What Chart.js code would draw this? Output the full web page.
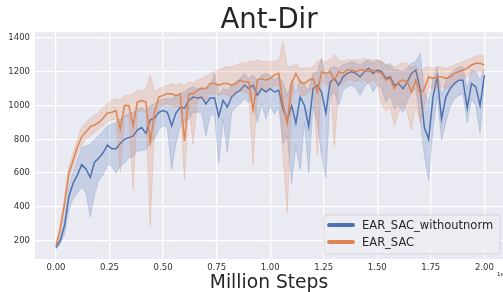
<!DOCTYPE html>
<html>
<head>
<meta charset="utf-8">
<script src="https://cdn.jsdelivr.net/npm/chart.js@4.4.0/dist/chart.umd.min.js"></script>
<style>
  body { margin: 0; background: #fff; }
  #wrap { width: 503px; height: 292px; }
</style>
</head>
<body>
<div id="wrap"><canvas id="antChart" width="503" height="292"></canvas></div>
<script>
// x positions (in units of 1e6 steps)
var steps = [0, 0.02, 0.04, 0.06, 0.08, 0.10, 0.12, 0.14, 0.16, 0.18,
  0.20, 0.22, 0.24, 0.26, 0.28, 0.30, 0.32, 0.34, 0.36, 0.38,
  0.40, 0.42, 0.44, 0.46, 0.48, 0.50, 0.52, 0.54, 0.56, 0.58,
  0.60, 0.62, 0.64, 0.66, 0.68, 0.70, 0.72, 0.74, 0.76, 0.78,
  0.80, 0.82, 0.84, 0.86, 0.88, 0.90, 0.92, 0.94, 0.96, 0.98,
  1.00, 1.02, 1.04, 1.06, 1.08, 1.10, 1.12, 1.14, 1.16, 1.18,
  1.20, 1.22, 1.24, 1.26, 1.28, 1.30, 1.32, 1.34, 1.36, 1.38,
  1.40, 1.42, 1.44, 1.46, 1.48, 1.50, 1.52, 1.54, 1.56, 1.58,
  1.60, 1.62, 1.64, 1.66, 1.68, 1.70, 1.72, 1.74, 1.76, 1.78,
  1.80, 1.82, 1.84, 1.86, 1.88, 1.90, 1.92, 1.94, 1.96, 1.98, 2.00];

// EAR_SAC_withoutnorm
var blueMean = [160, 200, 290, 460, 540, 590, 650, 625, 575, 665,
  690, 720, 765, 745, 745, 775, 800, 810, 820, 855,
  870, 835, 915, 925, 960, 970, 960, 880, 955, 990,
  985, 1030, 1050, 1045, 1050, 1010, 1045, 1045, 935, 1030,
  990, 1050, 1075, 1090, 1120, 1100, 1120, 1060, 1100, 1080,
  1100, 1080, 1090, 980, 915, 1000, 895, 1050, 1000, 875,
  1100, 1120, 1080, 955, 1140, 1160, 1120, 1170, 1190, 1200,
  1190, 1170, 1200, 1220, 1190, 1210, 1200, 1160, 1170, 1120,
  1130, 1100, 1140, 1190, 1210, 1100, 870, 800, 1050, 1170,
  920, 1050, 1100, 1130, 1150, 1150, 985, 1130, 1110, 1000, 1180];
var blueLow = [150, 180, 240, 380, 450, 480, 520, 480, 340, 470,
  560, 590, 650, 640, 600, 640, 660, 690, 700, 730,
  735, 740, 780, 800, 860, 880, 870, 620, 775, 880,
  900, 920, 960, 960, 960, 820, 940, 950, 660, 920,
  725, 960, 990, 1010, 1040, 1020, 1040, 900, 1010, 920,
  1000, 950, 990, 775, 820, 540, 760, 620, 900, 600,
  1000, 900, 705, 575, 1050, 1080, 1000, 1090, 1110, 1120,
  1100, 1060, 1110, 1140, 1080, 1120, 1100, 1020, 1060, 980,
  1000, 960, 1030, 1080, 1100, 920, 700, 560, 860, 1060,
  795, 900, 990, 1040, 1060, 1070, 900, 1040, 1000, 835, 1130];
var blueHigh = [180, 220, 330, 520, 610, 680, 750, 760, 770, 800,
  820, 850, 880, 890, 900, 920, 940, 950, 960, 980,
  990, 970, 1000, 1010, 1030, 1040, 1040, 1040, 1060, 1070,
  1080, 1100, 1110, 1100, 1110, 1100, 1110, 1190, 1060, 1100,
  1090, 1120, 1140, 1160, 1190, 1160, 1180, 1150, 1180, 1190,
  1180, 1150, 1170, 1140, 1060, 1150, 1080, 1150, 1120, 1090,
  1190, 1200, 1280, 1170, 1220, 1230, 1220, 1240, 1250, 1260,
  1250, 1240, 1260, 1270, 1250, 1270, 1260, 1240, 1240, 1210,
  1210, 1200, 1220, 1250, 1260, 1310, 1080, 1020, 1150, 1230,
  1060, 1140, 1190, 1210, 1230, 1230, 1100, 1210, 1200, 1150, 1220];

// EAR_SAC
var orangeMean = [170, 270, 420, 600, 675, 755, 815, 845, 875, 885,
  900, 925, 955, 960, 970, 860, 1000, 1000, 880, 1020,
  1030, 1020, 780, 960, 1050, 1060, 1070, 1070, 1060, 1070,
  790, 1070, 1070, 1090, 1100, 1100, 1130, 1130, 1120, 1130,
  1130, 1120, 1130, 1150, 1140, 1140, 970, 1150, 1160, 1150,
  1160, 1180, 1190, 1010, 895, 1130, 1190, 1140, 1130, 1150,
  1160, 1080, 1200, 1190, 1200, 1150, 1200, 1190, 1210, 1210,
  1200, 1210, 1210, 1200, 1210, 1200, 1190, 1150, 1160, 1100,
  1140, 1150, 1140, 1080, 1150, 1070, 1100, 1170, 1160, 1170,
  1170, 1160, 1170, 1190, 1200, 1210, 1220, 1240, 1250, 1250, 1240];
var orangeLow = [160, 240, 380, 560, 640, 720, 765, 800, 820, 840,
  860, 880, 905, 915, 920, 600, 940, 930, 500, 960,
  970, 960, 280, 880, 990, 1000, 1010, 1000, 990, 1000,
  560, 1000, 770, 1030, 1040, 1030, 1070, 1070, 1060, 1070,
  1060, 1050, 1070, 1090, 1080, 1070, 650, 1080, 1100, 1090,
  1100, 1120, 1120, 700, 365, 1040, 1130, 1060, 1060, 1080,
  1100, 705, 1140, 1120, 1130, 755, 1130, 1120, 1150, 1150,
  1140, 1150, 1150, 1130, 1150, 1130, 1000, 970, 990, 880,
  960, 1000, 960, 855, 1000, 900, 1000, 1110, 1100, 1110,
  1110, 1100, 1110, 1140, 1150, 1160, 1170, 1190, 1200, 1200, 1190];
var orangeHigh = [180, 300, 460, 640, 720, 800, 875, 900, 925, 940,
  960, 990, 1010, 1030, 1040, 1030, 1060, 1060, 1070, 1090,
  1090, 1100, 1180, 1080, 1100, 1110, 1120, 1130, 1120, 1130,
  1120, 1140, 1130, 1150, 1160, 1170, 1190, 1200, 1210, 1220,
  1230, 1230, 1240, 1250, 1250, 1260, 1260, 1270, 1260, 1260,
  1260, 1260, 1270, 1380, 1230, 1230, 1250, 1220, 1220, 1220,
  1230, 1260, 1270, 1260, 1270, 1300, 1270, 1260, 1270, 1270,
  1270, 1270, 1280, 1270, 1270, 1270, 1260, 1240, 1250, 1230,
  1240, 1250, 1250, 1220, 1240, 1200, 1220, 1230, 1220, 1230,
  1230, 1220, 1230, 1240, 1250, 1260, 1270, 1280, 1290, 1300, 1290];

var xTicks = [0, 0.25, 0.5, 0.75, 1.0, 1.25, 1.5, 1.75, 2.0];
var yTicks = [200, 400, 600, 800, 1000, 1200, 1400];
var seriesNames = ['EAR_SAC_withoutnorm', 'EAR_SAC'];

var BLUE = '#4C72B0';
var ORANGE = '#DD8452';

function pts(arr) {
    return steps.map(function (x, i) { return { x: x, y: arr[i] }; });
}

function band(arr, color, fill, order) {
    return {
        data: pts(arr),
        borderColor: color,
        borderWidth: 0.8,
        backgroundColor: fill,
        fill: order === 'upper' ? '-1' : false,
        pointRadius: 0,
        tension: 0
    };
}

var datasets = [
    Object.assign(band(blueLow, 'rgba(76,114,176,0.28)', 'rgba(76,114,176,0.22)', 'lower'), { order: 3 }),
    Object.assign(band(blueHigh, 'rgba(76,114,176,0.28)', 'rgba(76,114,176,0.22)', 'upper'), { order: 3 }),
    { label: seriesNames[0], data: pts(blueMean), borderColor: BLUE, borderWidth: 1.5, pointRadius: 0, fill: false, tension: 0, order: 2 },
    Object.assign(band(orangeLow, 'rgba(221,132,82,0.28)', 'rgba(221,132,82,0.22)', 'lower'), { order: 1 }),
    Object.assign(band(orangeHigh, 'rgba(221,132,82,0.28)', 'rgba(221,132,82,0.22)', 'upper'), { order: 1 }),
    { label: seriesNames[1], data: pts(orangeMean), borderColor: ORANGE, borderWidth: 1.5, pointRadius: 0, fill: false, tension: 0, order: 0 }
];

// seaborn-ish plot background
var plotBg = {
    id: 'plotBg',
    beforeDraw: function (chart) {
        var a = chart.chartArea, c = chart.ctx;
        c.save();
        c.fillStyle = '#EAEAF2';
        c.fillRect(a.left, a.top, a.right - a.left, a.bottom - a.top);
        c.restore();
    }
};

// title, axis label, offset text and legend box
var extras = {
    id: 'extras',
    afterDraw: function (chart) {
        var a = chart.chartArea, c = chart.ctx;
        var mid = (a.left + a.right) / 2;
        c.save();
        c.fillStyle = '#262626';
        c.textAlign = 'center';
        c.textBaseline = 'alphabetic';
        c.font = '27.5px "DejaVu Sans"';
        c.fillText('Ant-Dir', mid, 28);
        c.font = '18.7px "DejaVu Sans"';
        c.fillText('Million Steps', mid, 288);
        c.font = '5.5px "DejaVu Sans"';
        c.textAlign = 'left';
        c.fillText('1e6', 497, 276);

        // legend
        c.beginPath();
        c.roundRect(324, 215, 176, 39, 3);
        c.fillStyle = 'rgba(236,236,243,0.85)';
        c.fill();
        c.strokeStyle = '#d4d4dc';
        c.lineWidth = 1;
        c.stroke();
        var rows = [[BLUE, 225], [ORANGE, 242]];
        c.lineCap = 'round';
        c.lineWidth = 3.8;
        c.font = '11.5px "DejaVu Sans"';
        rows.forEach(function (r, i) {
            c.strokeStyle = r[0];
            c.beginPath();
            c.moveTo(329, r[1]);
            c.lineTo(353, r[1]);
            c.stroke();
            c.fillStyle = '#262626';
            c.fillText(seriesNames[i], 362, r[1] + 4);
        });
        c.restore();
    }
};

var tickFont = { family: 'DejaVu Sans', size: 8.5 };

var ctx = document.getElementById('antChart');
var antChart = new Chart(ctx, {
    type: 'line',
    data: { datasets: datasets },
    options: {
        responsive: false,
        animation: false,
        events: [],
        layout: { padding: { top: 32, right: 0, bottom: 0, left: 0 } },
        plugins: {
            legend: { display: false },
            tooltip: { enabled: false },
            title: { display: false }
        },
        scales: {
            x: {
                type: 'linear',
                min: -0.098,
                max: 2.087,
                afterFit: function (s) { s.height = 33; },
                afterBuildTicks: function (s) { s.ticks = xTicks.map(function (v) { return { value: v }; }); },
                grid: { color: '#ffffff', lineWidth: 1.3, drawTicks: false },
                border: { display: false },
                ticks: {
                    padding: 4,
                    autoSkip: false,
                    maxRotation: 0,
                    color: '#333333',
                    font: tickFont,
                    callback: function (v) { return Number(v).toFixed(2); }
                }
            },
            y: {
                min: 92,
                max: 1435,
                afterFit: function (s) { s.width = 35; },
                afterBuildTicks: function (s) { s.ticks = yTicks.map(function (v) { return { value: v }; }); },
                grid: { color: '#ffffff', lineWidth: 1.3, drawTicks: false },
                border: { display: false },
                ticks: {
                    padding: 5,
                    color: '#333333',
                    font: tickFont,
                    callback: function (v) { return String(v); }
                }
            }
        }
    },
    plugins: [plotBg, extras]
});
</script>
</body>
</html>
